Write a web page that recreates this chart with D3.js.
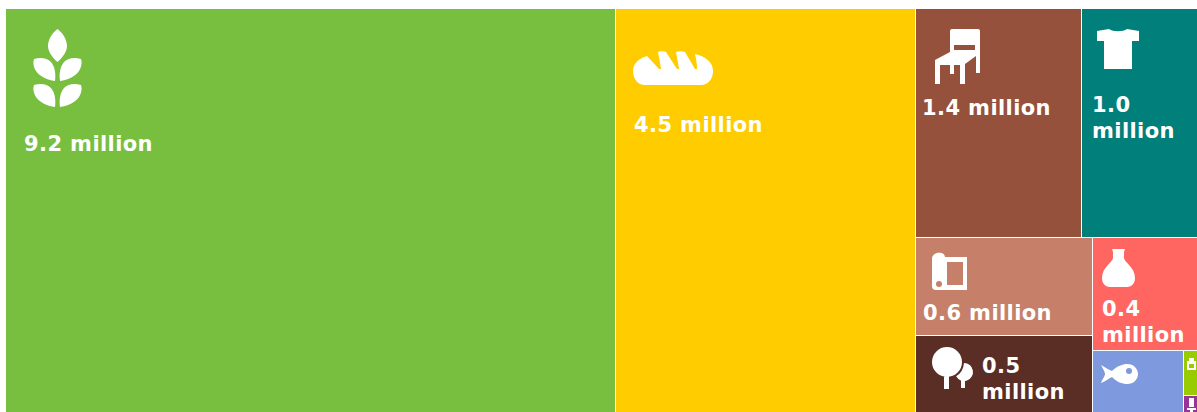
<!DOCTYPE html>
<html>
<head>
<meta charset="utf-8">
<script src="https://cdn.jsdelivr.net/npm/d3@7"></script>
<style>
    html, body { margin: 0; padding: 0; background: #fff; overflow: hidden; }
    .tile-label { font-family: "DejaVu Sans", sans-serif; font-weight: bold; font-size: 21px; letter-spacing: 0.4px; fill: #fff; }
</style>
</head>
<body>
<svg id="chart" width="1197" height="412"></svg>
<script>
// values in millions
const wheat = 9.16, bread = 4.5;
const furniture = [1.413, 0.987];
const textiles = [0.643, 0.506];
const oil = 0.44, fish = 0.209;
const smallest = [0.0231, 0.0089];

const tileNames = {
    top: ['chair', 'shirt'],
    left: ['fabric', 'trees'],
    small: ['bag', 'mic']
};

const colors = {
    wheat: '#78be3f', bread: '#ffcc00', chair: '#95513b', shirt: '#007f7b', fabric: '#c67f69',
    trees: '#5a2e24', flask: '#ff6661', fish: '#7f99df', bag: '#99cc00', mic: '#993399'
};

// icon shapes in local pixels; dx,dy = offset from tile corner, textX,textY = first baseline
const icons = {
    wheat: { dx: 27, dy: 20, textX: 18, textY: 142, d: 'M24.5,0C30,4 34,11 34,17C34,23 29,29 24.5,33C20,29 15,23 15,17C15,11 19,4 24.5,0ZM1,30C8,28 14,29 18,33C22,38 23,45 22,52C14,51 6,47 3,42C0,37 0,33 1,30ZM48,30C41,28 35,29 31,33C27,38 26,45 27,52C35,51 43,47 46,42C49,37 49,33 48,30ZM1,56C8,54 14,55 18,59C22,64 23,71 22,78C14,77 6,73 3,68C0,63 0,59 1,56ZM48,56C41,54 35,55 31,59C27,64 26,71 27,78C35,77 43,73 46,68C49,63 49,59 48,56Z' },
    bread: { dx: 17, dy: 42, textX: 18, textY: 123, d: 'M0,20C0,12 7,7 14,5L26,18L28,18C27,12 26,6 25,1C27,0 31,0 33,1L44,18L46,18C45,12 44,6 43,1C46,0 49,0 52,1L62,18L64,18C64,12 63,8 62,3C72,5 80,11 80,20C80,28 75,34 68,34L12,34C5,34 0,28 0,20Z' },
    chair: { dx: 19, dy: 20, textX: 6, textY: 106, d: 'M15,2Q15,0 17,0L43,0Q45,0 45,2L45,44L41,44L41,27L30,35L30,55L25,55L25,36L19,36L19,45L15,45L15,36L5,36L5,55L0,55L0,31L15,23ZM19,16L40,16L40,21L19,21Z' },
    shirt: { dx: 15, dy: 20, textX: 10, textY: 103, d: 'M0,2L12,0C16,3 26,3 30,0L42,2L42,12L35,12L35,40L7,40L7,12L0,12Z' },
    fabric: { dx: 16, dy: 15, textX: 7, textY: 82, d: 'M0,6C0,-2 13,-2 13,4L35,4L35,37L4,37Q0,37 0,33ZM15,9L31,9L31,32L15,32ZM4,31A3,3 0 1 0 10,31A3,3 0 1 0 4,31Z' },
    trees: { dx: 16, dy: 11, textX: 66, textY: 37, d: 'M0,15A15,15 0 1 1 30,15A15,15 0 1 1 0,15ZM12,26L17,26L17,42L12,42ZM31.98,16A9,9 0 1 1 24.12,29.36A17,17 0 0 0 31.98,16ZM29,30L33,30L33,41L29,41Z', rule: 'nonzero' },
    flask: { dx: 9, dy: 11, textX: 9, textY: 78, d: 'M10,0L23,0L22,3L22,9C22,13 33,18 33,29C33,35 29,38 25,38L8,38C4,38 0,35 0,29C0,18 11,13 11,9L11,3Z' },
    fish: { dx: 8, dy: 12, d: 'M0,2C4,4 8,7 11,8C16,3 22,1 26,1C33,1 37,6 37,11C37,16 33,21 26,21C21,21 16,19 11,14C8,15 4,19 0,20C2,15 4,13 4,11C4,9 2,6 0,2ZM25,8A3,3 0 1 0 31,8A3,3 0 1 0 25,8Z' },
    bag: { dx: 3, dy: 7, d: 'M2,0L7,0L7,3L9,3L9,12L0,12L0,3L2,3ZM2,6L7,6L7,10L2,10Z' },
    mic: { dx: 3, dy: 2, d: 'M2,0L7,0L7,9L2,9ZM0,10L9,10L9,12L6,12L6,15L3,15L3,12L0,12Z', rule: 'nonzero' }
};

const leaf = (name, value) => ({ name, value });

const tree = {
    name: 'all',
    children: [
        leaf('wheat', wheat),
        leaf('bread', bread),
        { name: 'rest', children: [
            { name: 'top', children: tileNames.top.map((n, i) => leaf(n, furniture[i])) },
            { name: 'bottom', children: [
                { name: 'left', children: tileNames.left.map((n, i) => leaf(n, textiles[i])) },
                { name: 'right', children: [
                    leaf('flask', oil),
                    { name: 'row', children: [
                        leaf('fish', fish),
                        { name: 'small', children: tileNames.small.map((n, i) => leaf(n, smallest[i])) }
                    ] }
                ] }
            ] }
        ] }
    ]
};

const svg = d3.select('#chart');

// the icons in the original are soft little bitmaps
svg.append('defs').append('filter')
    .attr('id', 'soft')
    .append('feGaussianBlur')
    .attr('stdDeviation', 0.5);

const root = d3.hierarchy(tree).sum(d => d.value || 0);

// dice at even depths, slice at odd ones
d3.treemap()
    .tile(d3.treemapSliceDice)
    .size([1192, 404])(root);

const plot = svg.append('g').attr('transform', 'translate(6,9)');

const cells = plot.selectAll('g.tile')
    .data(root.leaves())
    .join('g')
    .attr('class', 'tile')
    .attr('transform', d => `translate(${Math.round(d.x0)},${Math.round(d.y0)})`);

cells.append('rect')
    .attr('width', d => Math.round(d.x1) - Math.round(d.x0) - 1)
    .attr('height', d => Math.round(d.y1) - Math.round(d.y0) - 1)
    .attr('fill', d => colors[d.data.name]);

cells.append('path')
    .attr('transform', d => `translate(${icons[d.data.name].dx},${icons[d.data.name].dy})`)
    .attr('d', d => icons[d.data.name].d)
    .attr('fill', '#fff')
    .attr('fill-rule', d => icons[d.data.name].rule || 'evenodd')
    .attr('filter', 'url(#soft)');

// only tiles with room get a label, wrapped when the tile is too narrow
const labelled = cells.filter(d => icons[d.data.name].textX !== undefined);

labelled.each(function(d) {
    const ic = icons[d.data.name];
    const text = `${d.data.value.toFixed(1)} million`;
    const label = d3.select(this).append('text')
        .attr('class', 'tile-label')
        .attr('x', ic.textX)
        .attr('y', ic.textY)
        .text(text);

    if (label.node().getComputedTextLength() > d.x1 - d.x0 - ic.textX) {
        const words = text.split(' ');
        label.text(null);
        words.forEach((w, i) => {
            label.append('tspan')
                .attr('x', ic.textX)
                .attr('dy', i ? 26 : 0)
                .text(w);
        });
    }
});
</script>
</body>
</html>
